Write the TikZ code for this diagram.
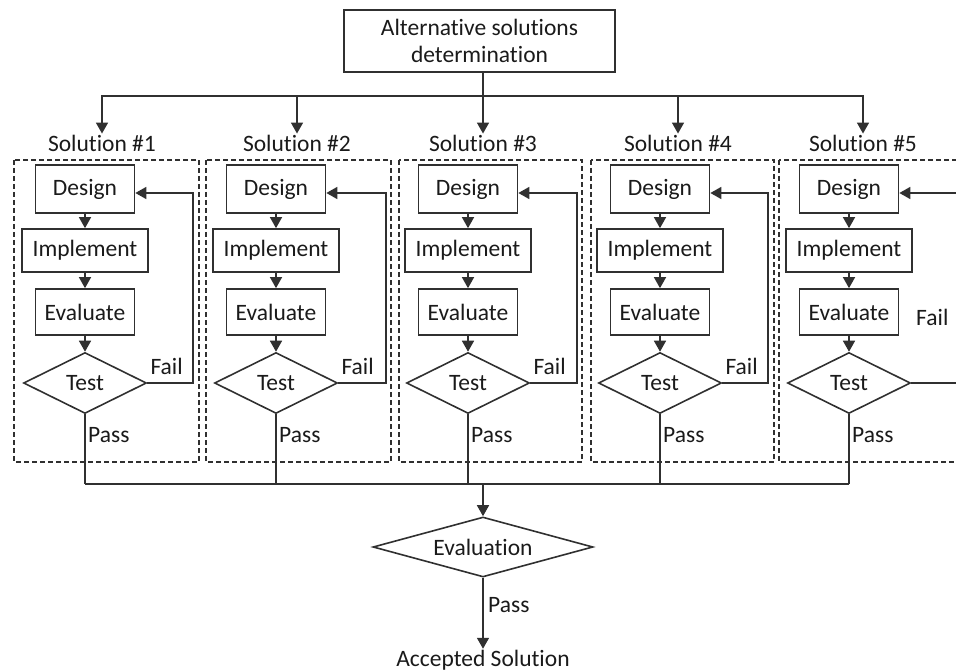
\documentclass[tikz,border=0pt]{standalone}
\usepackage{fontspec}
\setmainfont{Carlito}[Ligatures={NoCommon,NoRare,NoContextual}]
\usetikzlibrary{shapes.geometric,arrows.meta}
\definecolor{ln}{HTML}{303030}
\definecolor{txt}{HTML}{1A1A1A}
\begin{document}
\begin{tikzpicture}[x=1pt,y=-1pt,
  every node/.style={font=\fontsize{23.5}{27}\selectfont, text=txt},
  box/.style={draw=ln, line width=1.7pt, rectangle, inner sep=0pt},
  designbox/.style={box, minimum width=99pt, minimum height=48pt},
  implbox/.style={box, minimum width=126pt, minimum height=43pt},
  evalbox/.style={box, minimum width=99pt, minimum height=46pt},
  testdia/.style={draw=ln, line width=1.6pt, diamond, shape aspect=2, inner sep=0pt, minimum width=123pt, minimum height=61pt},
  grp/.style={draw=ln, line width=1.3pt, dash pattern=on 5pt off 3pt},
  conn/.style={draw=ln, line width=1.6pt},
  arr/.style={conn, -{Triangle[length=11pt,width=12pt]}},
  lbl/.style={inner sep=1pt}]
\useasboundingbox (0,0) rectangle (956,671);
\clip (0,0) rectangle (956,671);

% top box
\node[box, minimum width=271pt, minimum height=62pt, align=center] (top) at (479.5,41) {Alternative solutions\\determination};
\coordinate (bus) at (483,96);
\draw[conn] (top.south -| bus) -- (bus);

% solution labels
\node[lbl] (sol1) at (102,143) {Solution \#1};
\node[lbl] (sol2) at (297,143) {Solution \#2};
\node[lbl] (sol3) at (483,143) {Solution \#3};
\node[lbl] (sol4) at (678,143) {Solution \#4};
\node[lbl] (sol5) at (863,143) {Solution \#5};
\foreach \i in {1,2,4,5} {\draw[arr] (bus) -| (sol\i.north);}
\draw[arr] (bus) -- (sol3.north);

% dashed groups
\draw[grp] (14,160) rectangle (199,462);
\draw[grp] (206,160) rectangle (391,462);
\draw[grp] (399,160) rectangle (582,462);
\draw[grp] (591,160) rectangle (774,462);
\draw[grp] (779,160) rectangle (970,462);

% columns
\foreach \i/\cx/\fx in {1/85/193, 2/276/386, 3/468/577, 4/660/768, 5/849/975} {
  \node[designbox] (des\i) at (\cx,189) {Design};
  \node[implbox] (imp\i) at (\cx,250.5) {Implement};
  \node[evalbox] (evl\i) at (\cx,312) {Evaluate};
  \node[testdia] (tst\i) at (\cx,383) {Test};
  \draw[arr] (des\i) -- (imp\i);
  \draw[arr] (imp\i) -- (evl\i);
  \draw[arr] (evl\i) -- (tst\i);
  \coordinate (fa\i) at (\fx,383);
  \coordinate (fb\i) at (\fx,193);
  \draw[arr] (tst\i.east) -- (fa\i) -- (fb\i) -- (des\i.east |- fb\i);
  \node[lbl, anchor=west] (pass\i) at ({\cx+2},435) {Pass};
  \coordinate (col\i) at (\cx,484);
  \draw[conn] (tst\i.south) -- (col\i);
}
\foreach \i in {1,2,3,4} {
  \node[lbl, anchor=south west, xshift=2pt, yshift=7pt] (fail\i) at (tst\i.east) {Fail};
}
\node[lbl, anchor=west] (fail5) at (915,317) {Fail};

% collector
\draw[conn] (col1) -- (col5);
\coordinate (colm) at (483,484);
\node[draw=ln, line width=1.6pt, diamond, shape aspect=3.6, inner sep=0pt, minimum width=220pt, minimum height=60pt] (eval) at (483,547) {Evaluation};
\draw[arr] (colm) -- (eval.north);
\node[lbl] (acc) at (483,660) {Accepted Solution};
\draw[arr] (eval.south) -- (acc.north);
\node[lbl, anchor=west] (passE) at (487,605) {Pass};
\end{tikzpicture}
\end{document}
